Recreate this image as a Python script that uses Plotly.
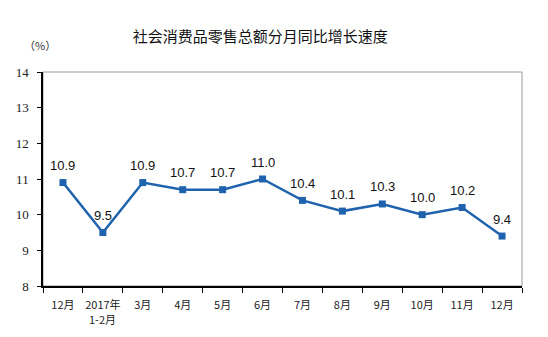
import plotly.graph_objects as go

# Monthly year-on-year growth of retail sales of consumer goods (%)
months = ["12月", "2017年", "3月", "4月", "5月", "6月",
          "7月", "8月", "9月", "10月", "11月", "12月 "]
month_labels = ["12月", "2017年", "3月", "4月", "5月", "6月",
                "7月", "8月", "9月", "10月", "11月", "12月"]
second_line = {"2017年": "1-2月"}
growth = [10.9, 9.5, 10.9, 10.7, 10.7, 11.0, 10.4, 10.1, 10.3, 10.0, 10.2, 9.4]
y_ticks = [8, 9, 10, 11, 12, 13, 14]

line_color = "#1f62ad"
cjk = "SimSun, Noto Sans CJK SC, sans-serif"
serif = "Liberation Serif, Times New Roman, serif"

L, R, T, B, W, H = 43, 26, 72, 51, 548, 337

fig = go.Figure()
fig.add_trace(go.Scatter(
    x=months, y=growth,
    mode="lines+markers",
    line=dict(color=line_color, width=2.5),
    marker=dict(symbol="square", size=7, color=line_color),
    cliponaxis=False,
    hoverinfo="skip",
))

# value labels above each point
annotations = [
    dict(x=m, y=v, text=f"{v:.1f}", xref="x", yref="y", showarrow=False,
         yshift=17, xanchor="center", yanchor="middle",
         font=dict(family="Arial, Liberation Sans, sans-serif", size=13, color="#111"))
    for m, v in zip(months, growth)
]
# second line of the two-line category label
for m, extra in second_line.items():
    annotations.append(dict(x=m, y=0, xref="x", yref="paper", text=extra,
                            showarrow=False, yshift=-33, xanchor="center",
                            yanchor="middle",
                            font=dict(family=cjk, size=11, color="#222")))
annotations.append(dict(text="（%）", xref="paper", yref="paper",
                        x=(40 - L) / (W - L - R), y=(H - B - 45) / (H - T - B),
                        xanchor="center", yanchor="middle", showarrow=False,
                        font=dict(family=cjk, size=11, color="#333")))

fig.update_layout(
    width=W, height=H,
    margin=dict(l=L, r=R, t=T, b=B),
    paper_bgcolor="white", plot_bgcolor="white",
    showlegend=False,
    title=dict(text="社会消费品零售总额分月同比增长速度",
               x=0.475, xanchor="center", y=1 - 37 / H, yanchor="middle",
               font=dict(family=cjk, size=15, color="#111")),
    annotations=annotations,
)

fig.update_xaxes(
    type="category", range=[-0.5, 11.5],
    tickmode="array", tickvals=months, ticktext=month_labels,
    showline=True, linecolor="black", linewidth=1.5,
    ticks="outside", ticklen=5, tickcolor="black", tickson="boundaries",
    showgrid=False, tickangle=0, ticklabelstandoff=8,
    tickfont=dict(family=cjk, size=11, color="#222"),
)
fig.update_yaxes(
    range=[8, 14], tickvals=y_ticks,
    showline=True, linecolor="black", linewidth=1.5,
    ticks="outside", ticklen=4, tickcolor="black",
    showgrid=False, zeroline=False, ticklabelstandoff=6,
    tickfont=dict(family=serif, size=13, color="#222"),
)
# gray top and right border of the plot area
fig.add_shape(type="rect", xref="paper", yref="paper", x0=0, y0=0, x1=1, y1=1,
              line=dict(color="#999", width=1), layer="below")

fig.write_html("out.html")
